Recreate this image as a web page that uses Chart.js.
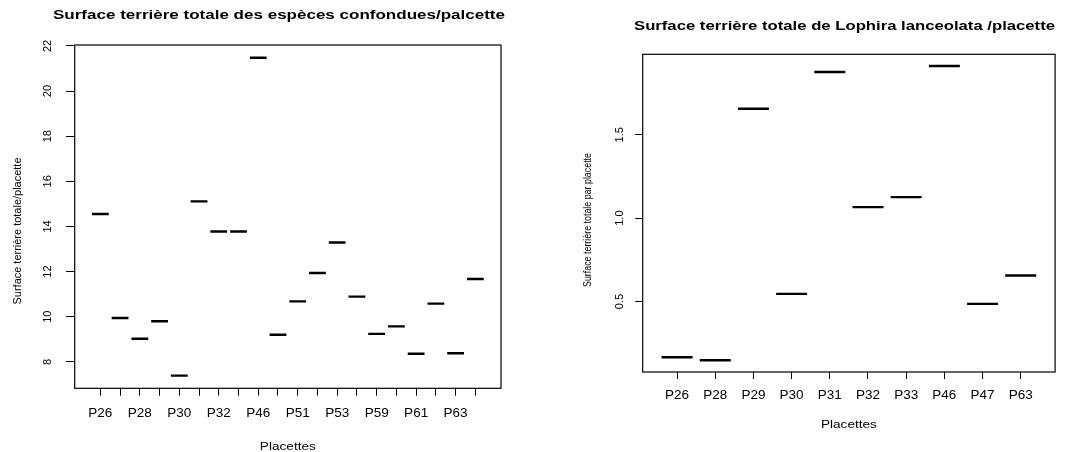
<!DOCTYPE html>
<html>
<head>
<meta charset="utf-8">
<title>Surface terrière par placette</title>
<script src="https://cdn.jsdelivr.net/npm/chart.js"></script>
<style>
  body { margin: 0; background: #fff; }
  #wrap { position: relative; width: 1073px; height: 452px; }
  canvas { position: absolute; top: 0; }
</style>
</head>
<body>
<div id="wrap">
  <canvas id="left" width="536" height="452" style="left:0"></canvas>
  <canvas id="right" width="537" height="452" style="left:536px"></canvas>
</div>
<script>
// toutes especes confondues
const leftPlacettes = ['P26', 'P27', 'P28', 'P29', 'P30', 'P31', 'P32', 'P33', 'P46', 'P47',
                       'P51', 'P52', 'P53', 'P58', 'P59', 'P60', 'P61', 'P62', 'P63', 'P64'];
const leftSurface = [14.55, 9.94, 9.02, 9.80, 7.39, 15.11, 13.78, 13.78, 21.48, 9.20,
                     10.68, 11.94, 13.29, 10.89, 9.24, 9.57, 8.36, 10.58, 8.38, 11.67];
const leftYTicks = [8, 10, 12, 14, 16, 18, 20, 22];

// Lophira lanceolata
const rightPlacettes = ['P26', 'P28', 'P29', 'P30', 'P31', 'P32', 'P33', 'P46', 'P47', 'P63'];
const rightSurface = [0.166, 0.148, 1.656, 0.546, 1.876, 1.066, 1.126, 1.912, 0.486, 0.656];
const rightYTicks = [0.5, 1.0, 1.5];

const FONT = '"Liberation Sans", Arial, Helvetica, sans-serif';

// draw text centred on (x, y), squeezed/stretched along its direction to a given width
function fitText(ctx, text, x, y, font, width, rot) {
    ctx.save();
    ctx.font = font;
    const w = ctx.measureText(text).width;
    ctx.translate(x, y);
    ctx.rotate(rot || 0);
    ctx.scale(width ? width / w : 1, 1);
    ctx.textAlign = 'center';
    ctx.textBaseline = 'middle';
    ctx.fillStyle = '#000';
    ctx.fillText(text, 0, 0);
    ctx.restore();
}

// R-like decorations: box, rotated y labels, titles
const rStyle = {
    id: 'rStyle',
    afterDraw(chart, args, o) {
        const ctx = chart.ctx, a = chart.chartArea, ys = chart.scales.y;
        ctx.save();
        ctx.strokeStyle = '#000';
        ctx.lineWidth = 1.2;
        ctx.strokeRect(a.left, a.top, a.right - a.left, a.bottom - a.top);
        ctx.restore();
        o.yTicks.forEach(v => {
            fitText(ctx, o.fmt(v), o.yLabelX, ys.getPixelForValue(v), '11px ' + FONT, 0, -Math.PI / 2);
        });
        fitText(ctx, o.title, o.titleX, o.titleY, 'bold 12px ' + FONT, o.titleW, 0);
        fitText(ctx, o.yTitle, o.yTitleX, o.yTitleY, '11px ' + FONT, o.yTitleW, -Math.PI / 2);
        fitText(ctx, 'Placettes', (a.left + a.right) / 2, o.xTitleY, '11px ' + FONT, 56, 0);
    }
};

function panel(id, p) {
    const canvas = document.getElementById(id);
    const n = p.labels.length;
    const lo = Math.min(...p.values), hi = Math.max(...p.values);
    const ext = (hi - lo) * 0.04;
    return new Chart(canvas, {
        type: 'scatter',
        data: {
            datasets: [{
                data: p.values.map((v, i) => ({ x: i + 1, y: v })),
                pointStyle: 'line',
                pointRadius: p.half,
                pointHoverRadius: p.half,
                borderColor: '#000',
                backgroundColor: '#000',
                pointBorderWidth: 2.4,
                pointHoverBorderWidth: 2.4
            }]
        },
        options: {
            responsive: false,
            animation: false,
            events: [],
            layout: { padding: { top: p.area.top, right: canvas.width - p.area.right, left: 0, bottom: 0 } },
            plugins: {
                legend: { display: false },
                tooltip: { enabled: false },
                rStyle: p.deco
            },
            scales: {
                x: {
                    type: 'linear',
                    min: 0.5 - 0.04 * n,
                    max: n + 0.5 + 0.04 * n,
                    afterBuildTicks: s => { s.ticks = p.labels.map((_, i) => ({ value: i + 1 })); },
                    afterFit: s => { s.height = canvas.height - p.area.bottom; },
                    ticks: {
                        autoSkip: false, maxRotation: 0, minRotation: 0,
                        padding: p.xPad, color: '#000',
                        font: { family: FONT, size: 13.5 },
                        callback: v => ((v - 1) % p.every === 0 ? p.labels[v - 1] : '')
                    },
                    grid: { drawOnChartArea: false, drawTicks: true, tickLength: p.xTick, color: '#000', lineWidth: 1 },
                    border: { display: false }
                },
                y: {
                    min: lo - ext,
                    max: hi + ext,
                    afterBuildTicks: s => { s.ticks = p.deco.yTicks.map(v => ({ value: v })); },
                    afterFit: s => { s.width = p.area.left; },
                    ticks: { display: false },
                    grid: { drawOnChartArea: false, drawTicks: true, tickLength: p.yTick, color: '#000', lineWidth: 1 },
                    border: { display: false }
                }
            }
        },
        plugins: [rStyle]
    });
}

panel('left', {
    labels: leftPlacettes, values: leftSurface, every: 2, half: 8.4,
    area: { left: 74.7, top: 45, right: 501, bottom: 388.3 },
    xPad: 9, xTick: 7.4, yTick: 8.7,
    deco: {
        yTicks: leftYTicks, fmt: v => String(v), yLabelX: 48,
        title: 'Surface terrière totale des espèces confondues/palcette', titleX: 279, titleY: 16, titleW: 452,
        yTitle: 'Surface terrière totale/placette', yTitleX: 18, yTitleY: 231, yTitleW: 147,
        xTitleY: 446.5
    }
});

panel('right', {
    labels: rightPlacettes, values: rightSurface, every: 1, half: 15.5,
    area: { left: 106.7, top: 54.3, right: 522.3, bottom: 372 },
    xPad: 8.5, xTick: 7, yTick: 7.5,
    deco: {
        yTicks: rightYTicks, fmt: v => v.toFixed(1), yLabelX: 84,
        title: 'Surface terrière totale de Lophira lanceolata /placette', titleX: 308.5, titleY: 27, titleW: 421,
        yTitle: 'Surface terrière totale par placette', yTitleX: 52, yTitleY: 220, yTitleW: 134,
        xTitleY: 425
    }
});
</script>
</body>
</html>
